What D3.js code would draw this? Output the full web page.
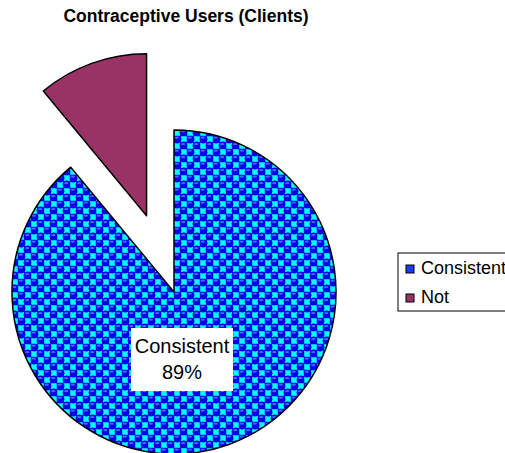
<!DOCTYPE html>
<html lang="en">
<head>
  <meta charset="UTF-8">
  <title>Contraceptive Users (Clients)</title>
  <style>
    body { margin: 0; background: #fff; }
    svg { display: block; font-family: "Liberation Sans", Arial, sans-serif; }
  </style>
</head>
<body>
  <svg id="chart" width="505" height="453"></svg>

  <script src="https://cdnjs.cloudflare.com/ajax/libs/d3/7.8.5/d3.min.js"></script>
  <script>

  // data
  let categories = ["Consistent", "Not"];
  let values = [89, 11];
  let exploded = [false, true];

  let width = 505, height = 453;
  let cx = 174, cy = 292, radius = 162;
  let explodeDist = 81;

  let svg = d3.select("#chart");

  // bubble checker pattern for the big slice
  let t = 13;
  let defs = svg.append("defs");
  let pat = defs.append("pattern")
      .attr("id", "bubbles")
      .attr("patternUnits", "userSpaceOnUse")
      .attr("width", t)
      .attr("height", t);
  pat.append("rect").attr("width", t).attr("height", t).attr("fill", "#0000ff");
  [[t * 0.75, t * 0.25], [t * 0.25, t * 0.75]].forEach(p => {
    pat.append("rect").attr("x", p[0] - 3).attr("y", p[1] - 3).attr("width", 6).attr("height", 6)
      .attr("fill", "#00ffff");
  });
  [[t * 0.25, t * 0.25], [t * 0.75, t * 0.75]].forEach(p => {
    pat.append("circle").attr("cx", p[0]).attr("cy", p[1]).attr("r", 4.2).attr("fill", "#0000e6");
    pat.append("ellipse").attr("cx", p[0] - 0.5).attr("cy", p[1] - 1.6).attr("rx", 2.2).attr("ry", 1.1)
      .attr("fill", "#4466ff");
  });

  let colors = d3.scaleOrdinal().domain(categories).range(["url(#bubbles)", "#993366"]);

  let pie = d3.pie().sort(null).value(d => d.value);
  let arcs = pie(categories.map((c, i) => ({ name: c, value: values[i], explode: exploded[i] })));

  let arc = d3.arc().innerRadius(0).outerRadius(radius);

  let g = svg.append("g").attr("transform", `translate(${cx},${cy})`);

  g.selectAll("path")
    .data(arcs)
    .enter()
    .append("path")
      .attr("d", arc)
      .attr("fill", d => colors(d.data.name))
      .attr("stroke", "#000")
      .attr("stroke-width", 1.5)
      .attr("stroke-linejoin", "round")
      .attr("transform", d => {
        if (!d.data.explode) return null;
        let a = (d.startAngle + d.endAngle) / 2;
        return `translate(${Math.sin(a) * explodeDist},${-Math.cos(a) * explodeDist})`;
      });

  // data label on the big slice
  let total = d3.sum(values);
  let big = arcs[0];
  let lx = cx + 8, ly = cy + 68;
  svg.append("rect")
    .attr("x", lx - 51).attr("y", ly - 32)
    .attr("width", 102).attr("height", 63)
    .attr("fill", "#fff");
  let lab = svg.append("text")
    .attr("text-anchor", "middle")
    .attr("font-size", 20)
    .attr("fill", "#000");
  lab.append("tspan").attr("x", lx).attr("y", ly - 7).text(big.data.name);
  lab.append("tspan").attr("x", lx).attr("y", ly + 19)
    .text(Math.round(big.data.value / total * 100) + "%");

  // title
  svg.append("text")
    .attr("x", 186).attr("y", 22)
    .attr("text-anchor", "middle")
    .attr("font-size", 17.5)
    .attr("font-weight", "bold")
    .text("Contraceptive Users (Clients)");

  // legend
  let legend = svg.append("g").attr("transform", "translate(398,253)");
  legend.append("rect")
    .attr("width", 120).attr("height", 58)
    .attr("fill", "#fff").attr("stroke", "#000").attr("stroke-width", 1);

  let legendFill = ["#1a3cff", "#993366"];
  let items = legend.selectAll("g.item")
    .data(categories)
    .enter()
    .append("g")
      .attr("class", "item")
      .attr("transform", (d, i) => `translate(8,${12 + i * 29})`);
  items.append("rect")
    .attr("width", 8).attr("height", 8)
    .attr("fill", (d, i) => legendFill[i])
    .attr("stroke", "#000").attr("stroke-width", 1);
  items.append("text")
    .attr("x", 15).attr("y", 8.5)
    .attr("font-size", 18)
    .text(d => d);

  </script>
</body>
</html>
